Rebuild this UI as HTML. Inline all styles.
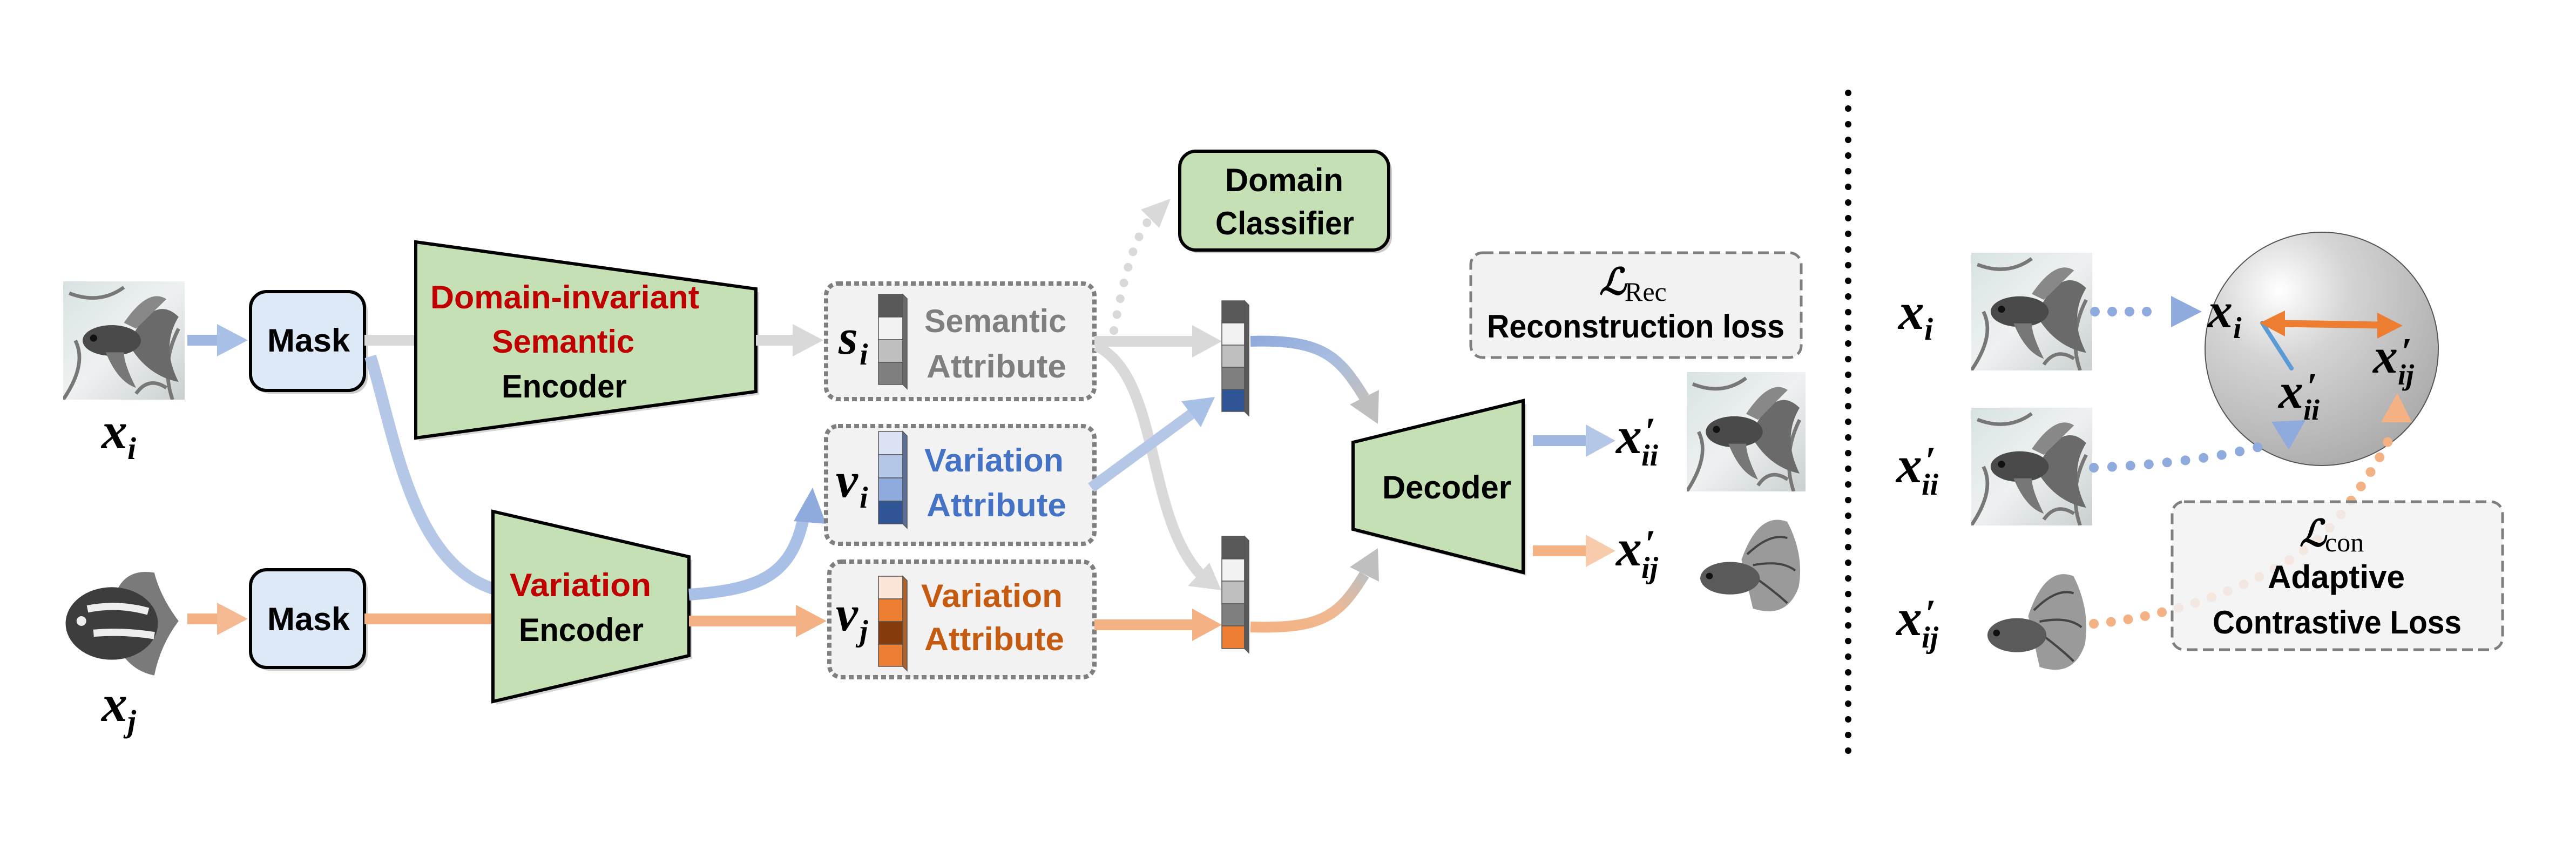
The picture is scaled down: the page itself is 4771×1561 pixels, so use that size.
<!DOCTYPE html>
<html><head><meta charset="utf-8"><style>html,body{margin:0;padding:0;background:#fff}svg{display:block}</style></head>
<body>
<svg width="4771" height="1561" viewBox="0 0 4771 1561" xmlns="http://www.w3.org/2000/svg">
<defs>
<linearGradient id="bg1" x1="0" y1="0" x2="1" y2="1"><stop offset="0" stop-color="#d8e2e2"/><stop offset="0.5" stop-color="#eef1f1"/><stop offset="1" stop-color="#c9cfcf"/></linearGradient>
<radialGradient id="sph" cx="0.32" cy="0.25" r="0.85"><stop offset="0" stop-color="#ffffff"/><stop offset="0.35" stop-color="#d4d4d4"/><stop offset="1" stop-color="#a8a8a8"/></radialGradient>
<linearGradient id="g1" x1="0" y1="0" x2="1" y2="1"><stop offset="0" stop-color="#8faadc"/><stop offset="0.5" stop-color="#a9bde0"/><stop offset="1" stop-color="#bfbfbf"/></linearGradient>
<linearGradient id="g2" x1="0" y1="1" x2="1" y2="0"><stop offset="0" stop-color="#f4b183"/><stop offset="0.5" stop-color="#f0b890"/><stop offset="1" stop-color="#bfbfbf"/></linearGradient>
<symbol id="fishA" viewBox="0 0 100 100" preserveAspectRatio="none">
<rect width="100" height="100" fill="url(#bg1)"/>
<path d="M0 100 Q20 70 10 50 M90 100 Q80 70 95 40 M5 10 Q30 20 50 5 M60 95 Q70 80 85 90" stroke="#777" stroke-width="3" fill="none"/>
<path d="M55 50 Q75 10 95 30 Q80 55 95 85 Q70 80 55 55Z" fill="#6a6a6a"/>
<path d="M50 35 Q70 5 85 15 Q70 30 60 40Z" fill="#888"/>
<ellipse cx="40" cy="50" rx="24" ry="13" fill="#4a4a4a"/>
<ellipse cx="25" cy="48" rx="3" ry="3" fill="#111"/>
<path d="M35 60 Q45 85 60 90 Q50 70 50 60Z" fill="#777"/>
</symbol>
<symbol id="fishB" viewBox="0 0 100 100" preserveAspectRatio="none">
<path d="M45 45 Q60 0 85 10 Q100 40 95 70 Q85 100 55 90Z" fill="#9a9a9a"/>
<path d="M50 40 Q70 20 85 25 M55 50 Q80 45 92 55 M55 60 Q75 75 85 85" stroke="#444" stroke-width="2" fill="none"/>
<ellipse cx="35" cy="62" rx="26" ry="15" fill="#5a5a5a"/>
<ellipse cx="17" cy="60" rx="3" ry="3" fill="#111"/>
</symbol>
<symbol id="fishC" viewBox="0 0 100 100" preserveAspectRatio="none">
<path d="M40 40 Q45 5 75 10 Q80 30 95 50 Q80 70 75 95 Q50 90 40 60Z" fill="#7a7a7a"/>
<ellipse cx="40" cy="52" rx="38" ry="30" fill="#3d3d3d"/>
<path d="M20 40 Q45 35 70 42 M25 60 Q50 58 75 62" stroke="#eee" stroke-width="6" fill="none"/>
<ellipse cx="15" cy="50" rx="4" ry="4" fill="#eee"/>
</symbol>
</defs>

<use href="#fishA" x="117" y="521" width="225" height="219"/>
<use href="#fishC" x="117" y="1038" width="225" height="224"/>

<rect x="347" y="620" width="57" height="20" fill="#9fb6e0"/><polygon points="402,600 459,630 402,660" fill="#a9c0e6"/>
<rect x="347" y="1136" width="57" height="20" fill="#f4b183"/><polygon points="402,1116 459,1146 402,1176" fill="#f5ba92"/>

<rect x="470" y="546" width="211" height="183" rx="30" fill="#9a9a9a" opacity="0.5"/>
<rect x="464" y="540" width="211" height="183" rx="30" fill="#dde9f6" stroke="#000" stroke-width="6"/>
<rect x="470" y="1061" width="211" height="181" rx="30" fill="#9a9a9a" opacity="0.5"/>
<rect x="464" y="1055" width="211" height="181" rx="30" fill="#dde9f6" stroke="#000" stroke-width="6"/>

<rect x="675" y="620" width="98" height="20" fill="#d9d9d9"/>
<rect x="675" y="1136" width="240" height="20" fill="#f4b183"/>
<path d="M686,660 C730,800 760,1040 913,1090" stroke="#b4c7e7" stroke-width="22" fill="none"/>

<polygon points="776,454 1406,541 1406,731 776,817" fill="#9a9a9a" opacity="0.4"/>
<polygon points="770,448 1400,535 1400,725 770,811" fill="#c5e0b4" stroke="#000" stroke-width="6"/>
<polygon points="919,953 1282,1037 1282,1220 919,1305" fill="#9a9a9a" opacity="0.4"/>
<polygon points="913,947 1276,1031 1276,1214 913,1299" fill="#c5e0b4" stroke="#000" stroke-width="6"/>

<rect x="1400" y="620" width="70" height="20" fill="#d9d9d9"/><polygon points="1468,600 1525,630 1468,660" fill="#d9d9d9"/>
<rect x="1276" y="1140" width="200" height="20" fill="#f4b183"/><polygon points="1474,1120 1531,1150 1474,1180" fill="#f4b183"/>
<path d="M1276,1101 C1400,1092 1465,1070 1488,960" stroke="#a9c0e6" stroke-width="22" fill="none"/>
<polygon points="1505,903 1530,970 1470,965" fill="#8faadc"/>

<rect x="1530" y="525" width="497" height="214" rx="22" fill="#f2f2f2" stroke="#7f7f7f" stroke-width="8" stroke-dasharray="9 6"/>
<rect x="1530" y="789" width="497" height="218" rx="22" fill="#f2f2f2" stroke="#7f7f7f" stroke-width="8" stroke-dasharray="9 6"/>
<rect x="1536" y="1040" width="491" height="214" rx="22" fill="#f2f2f2" stroke="#7f7f7f" stroke-width="8" stroke-dasharray="9 6"/>

<g stroke="#555" stroke-width="1.5">
<rect x="1627" y="545" width="45" height="42" fill="#595959"/><rect x="1627" y="587" width="45" height="42" fill="#f2f2f2"/><rect x="1627" y="629" width="45" height="42" fill="#bfbfbf"/><rect x="1627" y="671" width="45" height="41" fill="#7f7f7f"/>
<polygon points="1672,545 1680,553 1680,720 1672,712" fill="#6a6a6a"/>
<rect x="1627" y="799" width="45" height="43" fill="#dae3f3"/><rect x="1627" y="842" width="45" height="43" fill="#b4c7e7"/><rect x="1627" y="885" width="45" height="43" fill="#8faadc"/><rect x="1627" y="928" width="45" height="42" fill="#2f5597"/>
<polygon points="1672,799 1680,807 1680,978 1672,970" fill="#5a6f99"/>
<rect x="1627" y="1067" width="45" height="42" fill="#fbe5d6"/><rect x="1627" y="1109" width="45" height="42" fill="#ed7d31"/><rect x="1627" y="1151" width="45" height="42" fill="#843c0c"/><rect x="1627" y="1193" width="45" height="41" fill="#ed7d31"/>
<polygon points="1672,1067 1680,1075 1680,1242 1672,1234" fill="#b0612a"/>

<rect x="2263" y="557" width="42" height="41" fill="#595959"/><rect x="2263" y="598" width="42" height="41" fill="#f2f2f2"/><rect x="2263" y="639" width="42" height="41" fill="#bfbfbf"/><rect x="2263" y="680" width="42" height="41" fill="#7f7f7f"/><rect x="2263" y="721" width="42" height="41" fill="#2f5597"/>
<polygon points="2305,557 2313,565 2313,770 2305,762" fill="#5a5a5a"/>
<rect x="2263" y="993" width="42" height="42" fill="#595959"/><rect x="2263" y="1035" width="42" height="41" fill="#f2f2f2"/><rect x="2263" y="1076" width="42" height="42" fill="#bfbfbf"/><rect x="2263" y="1118" width="42" height="41" fill="#7f7f7f"/><rect x="2263" y="1159" width="42" height="42" fill="#ed7d31"/>
<polygon points="2305,993 2313,1001 2313,1209 2305,1201" fill="#5a5a5a"/>
</g>

<rect x="2027" y="622" width="183" height="20" fill="#d9d9d9"/><polygon points="2208,602 2263,632 2208,662" fill="#d9d9d9"/>
<path d="M2030,640 C2150,700 2120,950 2222,1062" stroke="#d9d9d9" stroke-width="20" fill="none"/>
<polygon points="2262,1093 2200,1085 2240,1042" fill="#d9d9d9"/>
<line x1="2021" y1="903" x2="2206" y2="767" stroke="#b4c7e7" stroke-width="20"/>
<polygon points="2250,735 2224,791 2188,743" fill="#a9c0e6"/>
<rect x="2027" y="1147" width="183" height="20" fill="#f4b183"/><polygon points="2208,1127 2263,1157 2208,1187" fill="#f4b183"/>
<path d="M2063,612 C2080,520 2100,440 2130,405" stroke="#d9d9d9" stroke-width="16" fill="none" stroke-linecap="round" stroke-dasharray="0 30"/>
<polygon points="2168,368 2113,388 2147,422" fill="#d9d9d9"/>
<path d="M2316,632 C2450,628 2480,660 2527,736" stroke="url(#g1)" stroke-width="20" fill="none"/>
<polygon points="2552,785 2554,722 2500,749" fill="#bfbfbf"/>
<path d="M2316,1161 C2450,1165 2480,1140 2527,1064" stroke="url(#g2)" stroke-width="20" fill="none"/>
<polygon points="2552,1015 2554,1077 2500,1050" fill="#bfbfbf"/>

<rect x="2191" y="286" width="387" height="183" rx="30" fill="#9a9a9a" opacity="0.5"/>
<rect x="2185" y="280" width="387" height="183" rx="30" fill="#c5e0b4" stroke="#000" stroke-width="6"/>

<polygon points="2512,825 2827,748 2827,1066 2512,986" fill="#9a9a9a" opacity="0.4"/>
<polygon points="2506,819 2821,742 2821,1060 2506,980" fill="#c5e0b4" stroke="#000" stroke-width="6"/>
<rect x="2839" y="806" width="100" height="20" fill="#9fb6e0"/><polygon points="2937,786 2992,816 2937,846" fill="#b4c7e7"/>
<rect x="2839" y="1010" width="100" height="20" fill="#f4b183"/><polygon points="2937,990 2992,1020 2937,1050" fill="#f8cbad"/>

<use href="#fishA" x="3124" y="689" width="220" height="221"/>
<use href="#fishB" x="3130" y="946" width="212" height="201"/>

<rect x="2724" y="468" width="612" height="194" rx="22" fill="#f2f2f2" stroke="#7f7f7f" stroke-width="5" stroke-dasharray="20 10"/>

<line x1="3423" y1="172" x2="3423" y2="1396" stroke="#000" stroke-width="12" stroke-linecap="round" stroke-dasharray="0 29"/>

<use href="#fishA" x="3651" y="468" width="224" height="218"/>
<use href="#fishA" x="3651" y="755" width="224" height="218"/>
<use href="#fishB" x="3662" y="1046" width="210" height="210"/>
<ellipse cx="4300" cy="646" rx="216" ry="216" fill="url(#sph)" stroke="#555" stroke-width="2"/>
<line x1="3880" y1="577" x2="4000" y2="577" stroke="#8faadc" stroke-width="18" stroke-linecap="round" stroke-dasharray="0 32"/>
<polygon points="4021,548 4078,577 4021,606" fill="#8faadc"/>
<path d="M3878,866 C3980,862 4100,850 4190,826" stroke="#8faadc" stroke-width="18" fill="none" stroke-linecap="round" stroke-dasharray="0 34"/>
<polygon points="4270,778 4239,833 4207,781" fill="#8faadc"/>
<path d="M3878,1155 C4050,1140 4250,1060 4330,960 C4390,880 4420,830 4432,795" stroke="#f4b183" stroke-width="18" fill="none" stroke-linecap="round" stroke-dasharray="0 32"/>
<polygon points="4440,728 4467,782 4410,782" fill="#f4b183"/>
<line x1="4190" y1="598" x2="4244" y2="682" stroke="#5b9bd5" stroke-width="8" stroke-linecap="round"/>
<line x1="4225" y1="599" x2="4408" y2="602" stroke="#ed7d31" stroke-width="13"/>
<polygon points="4185,598 4232,575 4232,623" fill="#ed7d31"/>
<polygon points="4450,603 4403,579 4403,627" fill="#ed7d31"/>
<rect x="4023" y="929" width="612" height="274" rx="22" fill="#f2f2f2" fill-opacity="0.85" stroke="#7f7f7f" stroke-width="5" stroke-dasharray="20 10"/>

<g font-family="Liberation Sans, sans-serif" font-weight="bold" font-size="60">
<text x="495" y="651" textLength="153" lengthAdjust="spacingAndGlyphs">Mask</text>
<text x="495" y="1167" textLength="153" lengthAdjust="spacingAndGlyphs">Mask</text>
<text x="797" y="571" textLength="498" lengthAdjust="spacingAndGlyphs" fill="#c00000">Domain-invariant</text>
<text x="911" y="653" textLength="264" lengthAdjust="spacingAndGlyphs" fill="#c00000">Semantic</text>
<text x="929" y="736" textLength="232" lengthAdjust="spacingAndGlyphs">Encoder</text>
<text x="944" y="1104" textLength="262" lengthAdjust="spacingAndGlyphs" fill="#c00000">Variation</text>
<text x="961" y="1187" textLength="231" lengthAdjust="spacingAndGlyphs">Encoder</text>
<text x="1712" y="615" textLength="263" lengthAdjust="spacingAndGlyphs" fill="#7f7f7f">Semantic</text>
<text x="1716" y="699" textLength="259" lengthAdjust="spacingAndGlyphs" fill="#7f7f7f">Attribute</text>
<text x="1712" y="873" textLength="258" lengthAdjust="spacingAndGlyphs" fill="#4472c4">Variation</text>
<text x="1716" y="956" textLength="259" lengthAdjust="spacingAndGlyphs" fill="#4472c4">Attribute</text>
<text x="1706" y="1124" textLength="262" lengthAdjust="spacingAndGlyphs" fill="#c55a11">Variation</text>
<text x="1712" y="1204" textLength="259" lengthAdjust="spacingAndGlyphs" fill="#c55a11">Attribute</text>
<text x="2269" y="354" textLength="219" lengthAdjust="spacingAndGlyphs">Domain</text>
<text x="2251" y="434" textLength="257" lengthAdjust="spacingAndGlyphs">Classifier</text>
<text x="2560" y="923" textLength="239" lengthAdjust="spacingAndGlyphs">Decoder</text>
<text x="2754" y="625" textLength="551" lengthAdjust="spacingAndGlyphs">Reconstruction loss</text>
<text x="4200" y="1089" textLength="254" lengthAdjust="spacingAndGlyphs">Adaptive</text>
<text x="4098" y="1173" textLength="461" lengthAdjust="spacingAndGlyphs">Contrastive Loss</text>
</g>

<g font-family="Liberation Serif, DejaVu Serif, serif" font-style="italic" font-weight="bold" fill="#000">
<text x="188" y="830" font-size="96">x</text><text x="236" y="850" font-size="58">i</text>
<text x="188" y="1335" font-size="96">x</text><text x="236" y="1355" font-size="58">j</text>
<text x="1553" y="655" font-size="92">s</text><text x="1592" y="675" font-size="56">i</text>
<text x="1548" y="920" font-size="92">v</text><text x="1592" y="940" font-size="56">i</text>
<text x="1548" y="1167" font-size="92">v</text><text x="1592" y="1187" font-size="56">j</text>
<text x="2993" y="839" font-size="96">x</text><text x="3046" y="823" font-size="72">′</text><text x="3040" y="862" font-size="56">ii</text>
<text x="2993" y="1047" font-size="96">x</text><text x="3046" y="1031" font-size="72">′</text><text x="3040" y="1070" font-size="56">ij</text>
<text x="3516" y="609" font-size="96">x</text><text x="3564" y="629" font-size="58">i</text>
<text x="3512" y="893" font-size="96">x</text><text x="3565" y="877" font-size="72">′</text><text x="3559" y="916" font-size="56">ii</text>
<text x="3512" y="1176" font-size="96">x</text><text x="3565" y="1160" font-size="72">′</text><text x="3559" y="1199" font-size="56">ij</text>
<text x="4089" y="606" font-size="92">x</text><text x="4136" y="626" font-size="56">i</text>
<text x="4395" y="690" font-size="92">x</text><text x="4447" y="674" font-size="70">′</text><text x="4441" y="712" font-size="54">ij</text>
<text x="4220" y="755" font-size="92">x</text><text x="4272" y="739" font-size="70">′</text><text x="4266" y="777" font-size="54">ii</text>
<text x="2962" y="545" font-size="68">ℒ</text>
<text x="4259" y="1011" font-size="68">ℒ</text>
</g>
<g font-family="Liberation Serif, serif" font-size="50" fill="#000">
<text x="3009" y="557">Rec</text>
<text x="4306" y="1021">con</text>
</g>
</svg>
</body></html>
